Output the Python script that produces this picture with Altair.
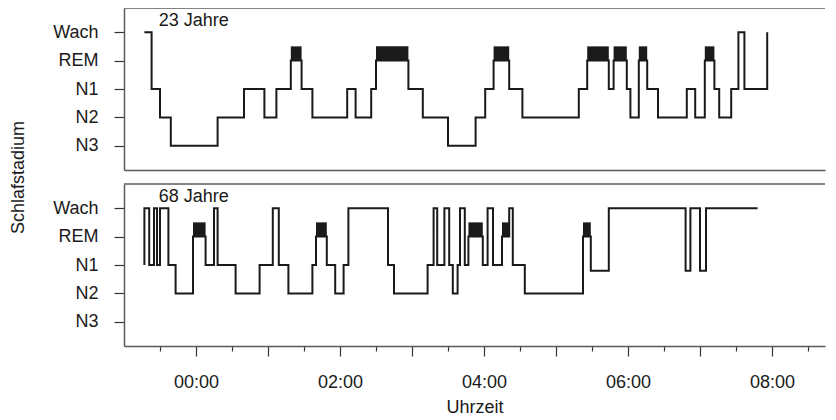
import altair as alt
import pandas as pd

# ---------------- data ----------------
stage_names = ["N3", "N2", "N1", "REM", "Wach"]   # numeric level 0..4
y_min, y_max = -0.85, 4.85
rem_top = 3.5

young_label = "23 Jahre"
old_label = "68 Jahre"
label_time = "23:29"
label_level = 4.22

young_times = ["23:17", "23:23", "23:30", "23:39", "00:18", "00:40", "00:57", "01:07", "01:19", "01:28",
               "01:37", "02:06", "02:13", "02:26", "02:30", "02:57", "03:09", "03:30", "03:53", "04:01",
               "04:08", "04:21", "04:32", "05:19", "05:26", "05:44", "05:48", "05:59", "06:02", "06:09",
               "06:16", "06:25", "06:49", "06:56", "07:04", "07:12", "07:16", "07:26", "07:32", "07:37",
               "07:56"]
young_stage = [4, 2, 1, 0, 1, 2, 1, 2, 3, 2,
               1, 2, 1, 2, 3, 2, 1, 0, 1, 2,
               3, 2, 1, 2, 3, 2, 3, 2, 1, 3,
               2, 1, 2, 1, 3, 2, 1, 2, 4, 2,
               4]

old_times = ["23:17", "23:17", "23:21", "23:25", "23:27:30", "23:30", "23:37", "23:43", "23:57:30", "00:08",
             "00:15", "00:18", "00:33", "00:53", "01:04", "01:09", "01:17", "01:37", "01:40", "01:49",
             "01:56", "02:03", "02:07", "02:40", "02:45", "03:13", "03:18", "03:21", "03:27", "03:31",
             "03:34", "03:38", "03:40", "03:44", "03:47", "03:59", "04:03", "04:07:30", "04:15", "04:21",
             "04:24", "04:34", "05:22:30", "05:29", "05:44", "06:48", "06:52", "07:00", "07:05", "07:48"]
old_stage = [2, 4, 2, 4, 2, 4, 2, 1, 3, 2,
             4, 2, 1, 2, 4, 2, 1, 2, 3, 2,
             1, 2, 4, 2, 1, 2, 4, 2, 4, 2,
             1, 2, 4, 2, 3, 2, 4, 2, 3, 4,
             2, 1, 3, 1.8, 4, 1.8, 4, 1.8, 4, 4]

x_start = "23:00"
x_end = "08:44:10"
tick_times = ["23:30", "00:00", "00:30", "01:00", "01:30", "02:00", "02:30", "03:00", "03:30", "04:00",
              "04:30", "05:00", "05:30", "06:00", "06:30", "07:00", "07:30", "08:00", "08:30"]

FONT = "Liberation Sans"
LINE = "#1a1a1a"
FRAME = "#5a5a5a"


def parts(s):
    p = [int(v) for v in s.split(":")]
    while len(p) < 3:
        p.append(0)
    h, m, sec = p
    day = 1 if h >= 12 else 2
    return day, h, m, sec


def ts(s):
    day, h, m, sec = parts(s)
    return pd.Timestamp(2000, 1, day, h, m, sec)


def dt(s):
    day, h, m, sec = parts(s)
    return alt.DateTime(year=2000, month=1, date=day, hours=h, minutes=m, seconds=sec)


label_expr_y = "[" + ",".join("'%s'" % n for n in stage_names) + "][datum.value]"


def panel(times, stages, label, bottom):
    df = pd.DataFrame({"t": [ts(s) for s in times], "stage": stages, "i": list(range(len(times)))})
    rem_rows = []
    for k in range(len(times) - 1):
        if stages[k] == 3:
            rem_rows.append({"t": ts(times[k]), "t2": ts(times[k + 1]), "y": 3, "y2": rem_top})
    rem = pd.DataFrame(rem_rows)

    xscale = alt.Scale(domain=[dt(x_start), dt(x_end)])
    yscale = alt.Scale(domain=[y_min, y_max], nice=False, zero=False)

    if bottom:
        xaxis = alt.Axis(
            values=[dt(s) for s in tick_times],
            labelExpr="minutes(datum.value) == 0 && hours(datum.value) % 2 == 0 ? timeFormat(datum.value, '%H:%M') : ''",
            tickSize={"condition": {"test": "minutes(datum.value) == 0", "value": 10}, "value": 5},
            labelOverlap=False, grid=False, title="Uhrzeit",
            labelPadding=17, titlePadding=7,
        )
        yaxis = alt.Axis(values=[0, 1, 2, 3, 4], labelExpr=label_expr_y, tickSize=10, grid=False,
                         labelPadding=16, title="Schlafstadium", titleX=-97, titleY=-7)
    else:
        xaxis = alt.Axis(labels=False, ticks=False, grid=False, title=None)
        yaxis = alt.Axis(values=[0, 1, 2, 3, 4], labelExpr=label_expr_y, tickSize=10, grid=False,
                         labelPadding=16, title=None)

    line = alt.Chart(df).mark_line(interpolate="step-after", color=LINE, strokeWidth=2).encode(
        x=alt.X("t:T", scale=xscale, axis=xaxis),
        y=alt.Y("stage:Q", scale=yscale, axis=yaxis),
        order="i:Q",
    )
    rects = alt.Chart(rem).mark_rect(color=LINE).encode(
        x=alt.X("t:T", scale=xscale, axis=xaxis), x2="t2:T",
        y=alt.Y("y:Q", scale=yscale, axis=yaxis), y2="y2:Q",
    )
    frame = alt.Chart(pd.DataFrame({"y": [y_max]})).mark_rule(color=FRAME, strokeWidth=1.5).encode(
        y=alt.Y("y:Q", scale=yscale, axis=yaxis),
    )
    lab = alt.Chart(pd.DataFrame({"t": [ts(label_time)], "y": [label_level], "txt": [label]})).mark_text(
        align="left", baseline="alphabetic", font=FONT, fontSize=18, color=LINE
    ).encode(
        x=alt.X("t:T", scale=xscale, axis=xaxis),
        y=alt.Y("y:Q", scale=yscale, axis=yaxis),
        text="txt:N",
    )
    return alt.layer(rects, line, frame, lab).properties(width=701, height=162)


chart = alt.vconcat(
    panel(young_times, young_stage, young_label, False),
    panel(old_times, old_stage, old_label, True),
    spacing=14, bounds="flush",
).properties(
    padding={"left": 0, "top": -1, "right": 0, "bottom": 0}
).configure_view(stroke=None).configure_axis(
    labelFont=FONT, titleFont=FONT, labelFontSize=18, titleFontSize=18,
    titleFontWeight="normal", labelColor=LINE, titleColor=LINE,
    domainColor=FRAME, domainWidth=1.5, tickColor="#333333", tickWidth=1.2,
)

chart.save("out.html", embed_options={"renderer": "svg", "actions": False})
